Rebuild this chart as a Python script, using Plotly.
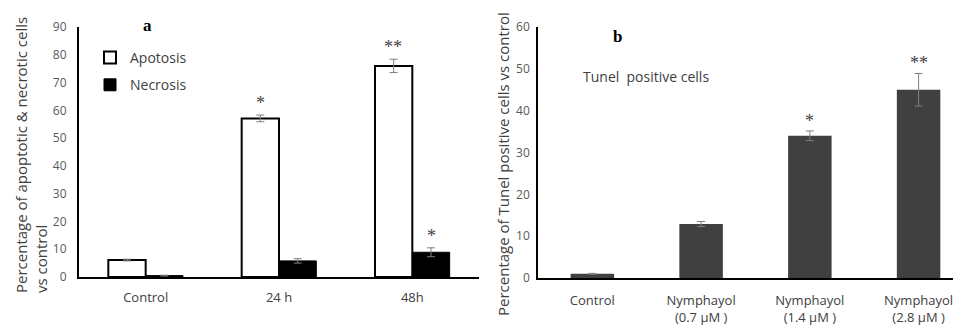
import plotly.graph_objects as go

# ---- Panel a data ----
cats_a = ["Control", "24 h", "48h"]
apoptosis = [6.1, 57.1, 76.0]
apoptosis_err = [0.3, 1.2, 2.4]
necrosis = [0.5, 5.8, 8.9]
necrosis_err = [0.15, 0.8, 1.6]
sig_a_apo = ["", "*", "**"]
sig_a_nec = ["", "", "*"]

# ---- Panel b data ----
cats_b = ["Control", "Nymphayol<br>(0.7 µM )", "Nymphayol<br>(1.4 µM )", "Nymphayol<br>(2.8 µM )"]
tunel = [1.0, 12.9, 34.0, 45.0]
tunel_err = [0.1, 0.6, 1.15, 3.9]
sig_b = ["", "", "*", "**"]

FONT = "Open Sans"
TICK_COL = "#595959"
TEXT_COL = "#404040"
ERR_COL = "#7f7f7f"

# page body has an 8px margin: figure sized to fill the remaining window
OFF = 8
W, H = 961 - OFF, 325 - OFF


def px(x):
    return (x - OFF) / W


def py(y):
    return 1 - (y - OFF) / H


fig = go.Figure()

fig.add_trace(go.Bar(
    x=cats_a, y=apoptosis, name="Apotosis", xaxis="x", yaxis="y",
    marker=dict(color="white", line=dict(color="black", width=2)),
    width=0.28, offset=-0.28,
    error_y=dict(type="data", array=apoptosis_err, color=ERR_COL, thickness=1, width=4),
    legendgroup="g1",
))
fig.add_trace(go.Bar(
    x=cats_a, y=necrosis, name="Necrosis", xaxis="x", yaxis="y",
    marker=dict(color="black", line=dict(color="black", width=1)),
    width=0.28, offset=0.0,
    error_y=dict(type="data", array=necrosis_err, color=ERR_COL, thickness=1, width=4),
    legendgroup="g2",
))
fig.add_trace(go.Bar(
    x=cats_b, y=tunel, name="Tunel positive cells", xaxis="x2", yaxis="y2",
    marker=dict(color="#404040", line=dict(width=0)),
    width=0.4, showlegend=False,
    error_y=dict(type="data", array=tunel_err, color=ERR_COL, thickness=1, width=4),
))

SIG_FONT = dict(family="Liberation Serif", size=18, color=TEXT_COL)
annotations = []
for i, c in enumerate(cats_a):
    if sig_a_apo[i]:
        annotations.append(dict(x=c, y=apoptosis[i] + apoptosis_err[i], xref="x", yref="y",
                                text=sig_a_apo[i], showarrow=False, xshift=-19, yanchor="bottom", yshift=0,
                                font=SIG_FONT))
    if sig_a_nec[i]:
        annotations.append(dict(x=c, y=necrosis[i] + necrosis_err[i], xref="x", yref="y",
                                text=sig_a_nec[i], showarrow=False, xshift=19, yanchor="bottom", yshift=0,
                                font=SIG_FONT))
for i, c in enumerate(cats_b):
    if sig_b[i]:
        annotations.append(dict(x=c, y=tunel[i] + tunel_err[i], xref="x2", yref="y2",
                                text=sig_b[i], showarrow=False, yanchor="bottom", yshift=-2,
                                font=SIG_FONT))

# y titles
annotations.append(dict(x=px(31), y=py(155), xref="paper", yref="paper", xanchor="center", yanchor="middle",
                        text="Percentage of apoptotic & necrotic cells<br>vs control", textangle=-90,
                        align="left", showarrow=False, font=dict(family=FONT, size=15, color=TEXT_COL)))
annotations.append(dict(x=px(503), y=py(164), xref="paper", yref="paper", xanchor="center", yanchor="middle",
                        text="Percentage of Tunel positive cells vs control", textangle=-90,
                        showarrow=False, font=dict(family=FONT, size=15, color=TEXT_COL)))
# panel letters and panel b label
annotations.append(dict(x=px(147), y=py(26), xref="paper", yref="paper", text="<b>a</b>",
                        xanchor="center", yanchor="middle",
                        showarrow=False, font=dict(family="Liberation Serif", size=17, color="black")))
annotations.append(dict(x=px(617), y=py(36), xref="paper", yref="paper", text="<b>b</b>",
                        xanchor="center", yanchor="middle",
                        showarrow=False, font=dict(family="Liberation Serif", size=17, color="black")))
annotations.append(dict(x=px(646), y=py(76), xref="paper", yref="paper", text="Tunel  positive cells",
                        xanchor="center", yanchor="middle",
                        showarrow=False, font=dict(family=FONT, size=14, color=TEXT_COL)))

fig.update_layout(
    width=W, height=H,
    margin=dict(l=0, r=0, t=0, b=0, autoexpand=False),
    paper_bgcolor="white", plot_bgcolor="white",
    barmode="overlay",
    font=dict(family=FONT, size=12, color=TICK_COL),
    showlegend=True,
    legend=dict(x=px(90), y=py(42), xanchor="left", yanchor="top",
                font=dict(family=FONT, size=14, color=TEXT_COL),
                traceorder="grouped", tracegroupgap=6, bgcolor="rgba(0,0,0,0)",
                itemwidth=30),
    annotations=annotations,
    xaxis=dict(domain=[px(79), px(479)], anchor="y", showline=True, linecolor="black", linewidth=2,
               ticks="", tickfont=dict(family=FONT, size=13, color=TEXT_COL), range=[-0.5, 2.5],
               showgrid=False, ticklabelstandoff=7, automargin=False),
    yaxis=dict(domain=[py(277), py(27)], anchor="x", range=[0, 90], dtick=10,
               showline=True, linecolor="black", linewidth=2, ticks="", showgrid=False,
               zeroline=False, tickfont=dict(family=FONT, size=12, color=TICK_COL), ticklabelstandoff=8,
               automargin=False),
    xaxis2=dict(domain=[px(538), 1.0], anchor="y2", showline=True, linecolor="black", linewidth=2,
                ticks="", tickfont=dict(family=FONT, size=13, color=TEXT_COL), range=[-0.5, 3.39],
                showgrid=False, ticklabelstandoff=9, automargin=False),
    yaxis2=dict(domain=[py(278), py(27)], anchor="x2", range=[0, 60], dtick=10,
                showline=True, linecolor="black", linewidth=1.5, ticks="", showgrid=False,
                zeroline=False, tickfont=dict(family=FONT, size=12, color=TICK_COL), ticklabelstandoff=4,
                automargin=False),
)

fig.write_html("out.html")
